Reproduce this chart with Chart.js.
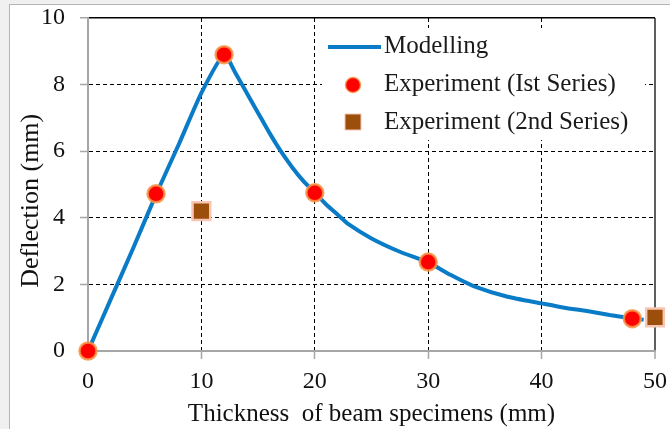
<!DOCTYPE html>
<html>
<head>
<meta charset="utf-8">
<script src="https://cdn.jsdelivr.net/npm/chart.js@4.4.1/dist/chart.umd.min.js"></script>
<style>
  html, body { margin: 0; padding: 0; width: 670px; height: 429px; overflow: hidden; background: #f0f0f0; }
  #frame { position: absolute; left: 9px; top: 4px; right: -2px; bottom: -2px; background: #ffffff;
           border-left: 1px solid #b4b4b4; border-top: 1px solid #b4b4b4; }
  #c { position: absolute; left: 0; top: 0; }
</style>
</head>
<body>
<div id="frame"></div>
<canvas id="c" width="670" height="429"></canvas>
<script>
// ---- data ----
const modelX = [0, 2, 4, 6, 8, 10, 12, 13, 14, 15, 16, 17, 18, 19, 20, 21, 22, 23, 25, 27.5, 30, 32, 34, 37, 40, 42, 44, 46, 48, 49];
const modelY = [0, 1.55, 3.1, 4.7, 6.2, 7.75, 8.9, 8.35, 7.75, 7.15, 6.55, 6.0, 5.52, 5.1, 4.75, 4.4, 4.1, 3.8, 3.38, 2.98, 2.66, 2.28, 1.95, 1.63, 1.43, 1.3, 1.2, 1.08, 0.98, 0.94];
const exp1X = [0, 6, 12, 20, 30, 48];
const exp1Y = [0, 4.72, 8.9, 4.75, 2.67, 0.97];
const exp2X = [10, 50];
const exp2Y = [4.2, 1.01];
const xTicks = [0, 10, 20, 30, 40, 50];
const yTicks = [0, 2, 4, 6, 8, 10];
const seriesNames = ['Modelling', 'Experiment (Ist Series)', 'Experiment (2nd Series)'];
const xTitle = 'Thickness  of beam specimens (mm)';
const yTitle = 'Deflection (mm)     ';

const toPts = (xs, ys) => xs.map((x, i) => ({ x: x, y: ys[i] }));

const FONT = 'Liberation Serif, Times New Roman, serif';
const BLUE = '#0A7BC6';

const legendPlugin = {
  id: 'customLegend',
  afterDraw(chart) {
    const ctx = chart.ctx;
    const ds = chart.data.datasets;
    ctx.save();
    ctx.fillStyle = '#ffffff';
    ctx.fillRect(322, 28, 323, 112);
    ctx.font = '25px ' + FONT;
    ctx.textBaseline = 'middle';
    ctx.textAlign = 'left';
    ctx.fillStyle = '#1a1a1a';
    // row 1: line
    ctx.strokeStyle = ds[0].borderColor;
    ctx.lineWidth = 4;
    ctx.beginPath(); ctx.moveTo(328, 47); ctx.lineTo(381, 47); ctx.stroke();
    ctx.fillText(ds[0].label, 384, 46.5);
    // row 2: circle
    ctx.beginPath(); ctx.arc(353, 85, 7.5, 0, Math.PI * 2);
    ctx.fillStyle = ds[1].backgroundColor; ctx.fill();
    ctx.lineWidth = 1.5; ctx.strokeStyle = ds[1].borderColor; ctx.stroke();
    ctx.fillStyle = '#1a1a1a';
    ctx.fillText(ds[1].label, 384, 84.5);
    // row 3: square
    ctx.fillStyle = ds[2].backgroundColor;
    ctx.fillRect(345, 114, 16, 16);
    ctx.lineWidth = 1; ctx.strokeStyle = ds[2].borderColor; ctx.strokeRect(345, 114, 16, 16);
    ctx.fillStyle = '#1a1a1a';
    ctx.fillText(ds[2].label, 384, 122);
    ctx.restore();
  }
};

const isEdge = (v, lo, hi) => v === lo || v === hi;

new Chart(document.getElementById('c'), {
  data: {
    datasets: [
      {
        type: 'line', label: seriesNames[0], data: toPts(modelX, modelY),
        borderColor: BLUE, backgroundColor: BLUE, borderWidth: 4,
        pointRadius: 0, tension: 0.2, fill: false, order: 10
      },
      {
        type: 'scatter', label: seriesNames[1], data: toPts(exp1X, exp1Y),
        backgroundColor: '#FF0000', borderColor: 'rgba(246,150,70,0.85)', borderWidth: 2.5,
        pointRadius: 8.5, pointStyle: 'circle', order: 1, clip: false
      },
      {
        type: 'scatter', label: seriesNames[2], data: toPts(exp2X, exp2Y),
        backgroundColor: '#9C4F0A', borderColor: '#F8C6B4', borderWidth: 2.5,
        pointRadius: 12.5, pointStyle: 'rect', order: 2, clip: false
      }
    ]
  },
  options: {
    responsive: false,
    animation: false,
    layout: { padding: { left: 0, top: 18, right: 14, bottom: 0 } },
    plugins: { legend: { display: false }, tooltip: { enabled: false } },
    scales: {
      x: {
        type: 'linear', min: 0, max: 50,
        afterBuildTicks: s => { s.ticks = xTicks.map(v => ({ value: v })); },
        afterFit: s => { s.height = 78; s.paddingLeft = 0; s.paddingRight = 0; },
        ticks: { color: '#111', padding: 8, font: { family: FONT, size: 24 } },
        grid: {
          color: c => (c.tick && c.tick.value === 0) ? 'rgba(0,0,0,0)' : (c.tick && c.tick.value === 50 ? '#5f5f5f' : '#000'),
          lineWidth: c => (c.tick && c.tick.value === 50) ? 2 : 1,
          tickColor: '#a6a6a6', tickLength: 8, tickWidth: 1.5, tickBorderDash: []
        },
        border: {
          color: '#a6a6a6', width: 2,
          dash: c => (c.tick && isEdge(c.tick.value, 0, 50)) ? [] : [4, 3]
        },
        title: {
          display: true, text: xTitle, color: '#111',
          font: { family: FONT, size: 25 }, padding: { top: 0, bottom: 0 }
        }
      },
      y: {
        type: 'linear', min: 0, max: 10,
        afterBuildTicks: s => { s.ticks = yTicks.map(v => ({ value: v })); },
        afterFit: s => { s.width = 88; s.paddingTop = 0; s.paddingBottom = 0; },
        ticks: { color: '#111', padding: 15, font: { family: FONT, size: 24 } },
        grid: {
          color: c => (c.tick && c.tick.value === 0) ? 'rgba(0,0,0,0)' : '#000',
          lineWidth: c => (c.tick && c.tick.value === 10) ? 1.5 : 1,
          tickColor: '#a6a6a6', tickLength: 8, tickWidth: 1.5, tickBorderDash: []
        },
        border: {
          color: '#a6a6a6', width: 2,
          dash: c => (c.tick && isEdge(c.tick.value, 0, 10)) ? [] : [4, 3]
        },
        title: {
          display: true, text: yTitle, color: '#111',
          font: { family: FONT, size: 26 }, padding: { top: 16, bottom: 0 }
        }
      }
    }
  },
  plugins: [legendPlugin]
});
</script>
</body>
</html>
